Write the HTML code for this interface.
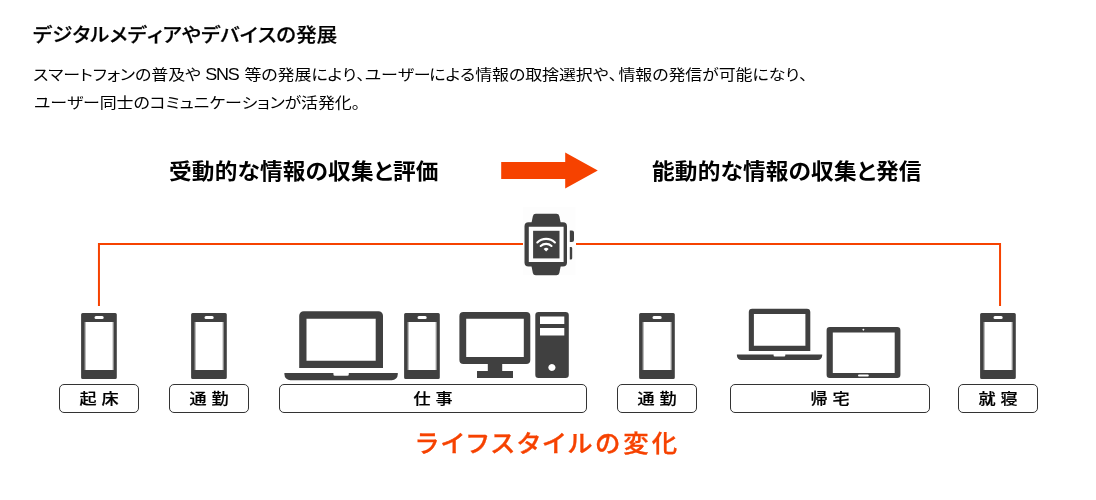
<!DOCTYPE html>
<html lang="ja">
<head>
<meta charset="utf-8">
<title>デジタルメディアやデバイスの発展</title>
<style>
html,body{margin:0;padding:0;background:#fff;}
body{width:1096px;height:500px;position:relative;overflow:hidden;font-family:"Liberation Sans","Noto Sans CJK JP",sans-serif;color:#000;}
.t{position:absolute;white-space:nowrap;line-height:1;font-kerning:none;font-feature-settings:"palt" 1;will-change:transform;transform-origin:0 50%;}
.en{font-size:15.9px;letter-spacing:-1.1px;line-height:0;margin-left:0.6px;margin-right:1.95px;}
#title{left:33.3px;top:25.5px;-webkit-text-stroke:0.25px #000;font-size:19px;font-weight:500;letter-spacing:0.2px;transform:scaleX(1.07);}
#p1{left:33.2px;top:66.7px;font-size:15px;letter-spacing:-0.07px;transform:scaleX(1.13);}
#p2{left:33.8px;top:94.7px;font-size:15px;letter-spacing:-0.1px;transform:scaleX(1.13);}
.h{font-size:21.4px;font-weight:700;top:161.9px;letter-spacing:0.16px;transform:scaleX(1.06);}
#h1{left:169px;}
#h2{left:652.1px;}
.lab{position:absolute;top:384px;height:27px;border:1px solid #333;border-radius:5px;box-sizing:content-box;}
.lab span{position:absolute;left:0;top:0;width:100%;height:27px;text-align:center;font-size:14.8px;line-height:29.4px;letter-spacing:4.25px;text-indent:4.25px;font-weight:500;-webkit-text-stroke:0.2px #000;will-change:transform;transform:scaleX(1.155);transform-origin:50% 50%;white-space:nowrap;}
#foot{left:416.45px;top:432.3px;font-size:24px;font-weight:500;color:#f64200;-webkit-text-stroke:0.3px #f64200;letter-spacing:3.03px;transform:scaleX(1.06);}
svg{position:absolute;left:0;top:0;}
</style>
</head>
<body>
<div class="t" id="title">デジタルメディアやデバイスの発展</div>
<div class="t" id="p1">スマートフォンの普及や<span class="en"> SNS </span>等の発展により、ユーザー<span style="margin-left:-1.3px">に</span>よる情報の取捨選択や、<span style="margin-left:1.3px">情</span>報の発信が可能になり、</div>
<div class="t" id="p2">ユーザー同士のコミュニケーションが活発化。</div>
<div class="t h" id="h1">受動的な情報の収集と評価</div>
<div class="t h" id="h2">能動的な情報の収集と発信</div>
<svg width="1096" height="500" viewBox="0 0 1096 500">
  <!-- arrow -->
  <path fill="#f64200" d="M501.200 162.100h64v-9.700l32.600 18l-32.600 18v-9.400h-64z"/>
  <!-- connector lines -->
  <rect x="523" y="207" width="52.500" height="68" fill="#fdfdfd"/>
  <path fill="none" stroke="#f64200" stroke-width="2" d="M98.950 306V243.900H523M576 243.900H1000.050V306"/>
  <g fill="#404040">
  <g transform="translate(81.100 313)">
    <path fill-rule="evenodd" d="M1.500 0h32.700a1.500 1.500 0 0 1 1.500 1.500v63a1.500 1.500 0 0 1 -1.500 1.500h-32.700a1.500 1.500 0 0 1 -1.500 -1.500v-63a1.500 1.500 0 0 1 1.500 -1.500zM3.600 8.900v48h28.900v-48zM14.900 3.100a1.500 1.500 0 0 0 0 3h6.200a1.500 1.500 0 0 0 0 -3z"/>
    <path fill-opacity="0.5" d="M3.600 8.900h1v48h-1zM31.500 8.900h1v48h-1z"/>
  </g>
  <g transform="translate(191.100 313)">
    <path fill-rule="evenodd" d="M1.500 0h32.700a1.500 1.500 0 0 1 1.500 1.500v63a1.500 1.500 0 0 1 -1.500 1.500h-32.700a1.500 1.500 0 0 1 -1.500 -1.500v-63a1.500 1.500 0 0 1 1.500 -1.500zM3.600 8.900v48h28.900v-48zM14.900 3.100a1.500 1.500 0 0 0 0 3h6.200a1.500 1.500 0 0 0 0 -3z"/>
    <path fill-opacity="0.5" d="M3.600 8.900h1v48h-1zM31.500 8.900h1v48h-1z"/>
  </g>
  <g transform="translate(404.100 313)">
    <path fill-rule="evenodd" d="M1.500 0h32.700a1.500 1.500 0 0 1 1.500 1.500v63a1.500 1.500 0 0 1 -1.500 1.500h-32.700a1.500 1.500 0 0 1 -1.500 -1.500v-63a1.500 1.500 0 0 1 1.500 -1.500zM3.600 8.900v48h28.900v-48zM14.900 3.100a1.500 1.500 0 0 0 0 3h6.200a1.500 1.500 0 0 0 0 -3z"/>
    <path fill-opacity="0.5" d="M3.600 8.900h1v48h-1zM31.500 8.900h1v48h-1z"/>
  </g>
  <g transform="translate(639.100 313)">
    <path fill-rule="evenodd" d="M1.500 0h32.700a1.500 1.500 0 0 1 1.500 1.500v63a1.500 1.500 0 0 1 -1.500 1.500h-32.700a1.500 1.500 0 0 1 -1.500 -1.500v-63a1.500 1.500 0 0 1 1.500 -1.500zM3.600 8.900v48h28.900v-48zM14.900 3.100a1.500 1.500 0 0 0 0 3h6.200a1.500 1.500 0 0 0 0 -3z"/>
    <path fill-opacity="0.5" d="M3.600 8.900h1v48h-1zM31.500 8.900h1v48h-1z"/>
  </g>
  <g transform="translate(980.100 313)">
    <path fill-rule="evenodd" d="M1.500 0h32.700a1.500 1.500 0 0 1 1.500 1.500v63a1.500 1.500 0 0 1 -1.500 1.500h-32.700a1.500 1.500 0 0 1 -1.500 -1.500v-63a1.500 1.500 0 0 1 1.500 -1.500zM3.600 8.900v48h28.900v-48zM14.900 3.100a1.500 1.500 0 0 0 0 3h6.200a1.500 1.500 0 0 0 0 -3z"/>
    <path fill-opacity="0.5" d="M3.600 8.900h1v48h-1zM31.500 8.900h1v48h-1z"/>
  </g>
  <g transform="translate(284.400 311.200)">
    <!-- 113.4 x 69.1 -->
    <path fill-rule="evenodd" d="M19.300 0h74.800a4.500 4.500 0 0 1 4.500 4.500v52.300h-83.800v-52.300a4.500 4.500 0 0 1 4.500 -4.500zM22.100 7.600v42h69.200v-42z"/>
    <path d="M0 61.900h49v1.200a1.500 1.500 0 0 0 1.500 1.500h12.400a1.500 1.500 0 0 0 1.500 -1.500v-1.200h49v1.200a6 6 0 0 1 -6 6h-101.400a6 6 0 0 1 -6 -6z"/>
  </g>
  <!-- small laptop -->
  <path fill-rule="evenodd" d="M752.200 308.700h54.700a3.400 3.400 0 0 1 3.400 3.400v39h-61.500v-39a3.400 3.400 0 0 1 3.400 -3.400zM753.900 314v31.700h51.500v-31.700z"/>
  <path d="M736.900 354.600h36.700v0.900a1.100 1.100 0 0 0 1.100 1.100h9.500a1.100 1.100 0 0 0 1.100 -1.100v-0.900h36.900v1a4.500 4.500 0 0 1 -4.500 4.500h-76.300a4.500 4.500 0 0 1 -4.500 -4.500z"/>
  <!-- monitor -->
  <path fill-rule="evenodd" d="M463.400 311.900h62.900a4 4 0 0 1 4 4v44a4 4 0 0 1 -4 4h-24.100v7.200h10.800v6.900h-36v-6.900h10.800v-7.200h-24.400a4 4 0 0 1 -4 -4v-44a4 4 0 0 1 4 -4zM466.200 318.700v38.400h57.600v-38.400z"/>
  <!-- tower -->
  <path fill-rule="evenodd" d="M538.500 311.900h27.100a3.200 3.200 0 0 1 3.200 3.200v59.700a3.200 3.200 0 0 1 -3.200 3.200h-27.100a3.200 3.200 0 0 1 -3.200 -3.200v-59.700a3.200 3.200 0 0 1 3.200 -3.200zM540 316.600v7.300h24.300v-7.300zM540 327.900v7.700h24.300v-7.700zM551.900 363.900a3.600 3.600 0 1 0 0.001 0z"/>
  <!-- tablet -->
  <path fill-rule="evenodd" d="M829.800 327h67.400a3.200 3.200 0 0 1 3.200 3.200v44.600a3.200 3.200 0 0 1 -3.200 3.200h-67.400a3.200 3.200 0 0 1 -3.200 -3.200v-44.600a3.200 3.200 0 0 1 3.200 -3.200zM832.800 332.400v40.500h61.900v-40.500zM863.400 328.700a0.900 0.900 0 1 0 0.001 0zM859 374.500a1 1 0 0 0 0 2h8.800a1 1 0 0 0 0 -2z"/>
  <!-- watch -->
  <path d="M535.800 213.800h20.600a3 3 0 0 1 2.950 2.400l1.500 7.300h-29.500l1.500 -7.300a3 3 0 0 1 2.950 -2.400zM531.350 265.400h29.500l-1.500 7.500a3 3 0 0 1 -2.950 2.400h-20.600a3 3 0 0 1 -2.950 -2.400z"/>
  <path fill-rule="evenodd" d="M528.500 222.300h34.500a4 4 0 0 1 4 4v36.200a4 4 0 0 1 -4 4h-34.500a4 4 0 0 1 -4 -4v-36.200a4 4 0 0 1 4 -4zM528.800 226.800v35.200h34.800v-35.200z"/>
  <rect x="533.100" y="230.800" width="26.400" height="27.600"/>
  <path d="M569.800 230.600h2.200a2 2 0 0 1 2 2v7.500a2 2 0 0 1 -2 2h-2.200zM569.800 246.900h1.200a1.200 1.200 0 0 1 1.200 1.200v10.100a1.200 1.200 0 0 1 -1.200 1.200h-1.200z"/>
  </g>
  <!-- wifi -->
  <g fill="none" stroke="#fff" stroke-width="2.100" stroke-linecap="round">
    <path d="M537.300 242.500a12.500 12.500 0 0 1 17.600 0"/>
    <path d="M540.700 246a7.800 7.800 0 0 1 10.800 0"/>
  </g>
  <path fill="#fff" d="M543.600 248.900a3.700 3.700 0 0 1 5 0l-2.500 2.500z"/>
</svg>
<div class="lab" style="left:59px;width:78px;"><span>起床</span></div>
<div class="lab" style="left:169px;width:78px;"><span>通勤</span></div>
<div class="lab" style="left:279px;width:306px;"><span>仕事</span></div>
<div class="lab" style="left:617px;width:78px;"><span>通勤</span></div>
<div class="lab" style="left:730px;width:198px;"><span>帰宅</span></div>
<div class="lab" style="left:958px;width:78px;"><span>就寝</span></div>
<div class="t" id="foot">ライフスタイルの変化</div>
</body>
</html>
